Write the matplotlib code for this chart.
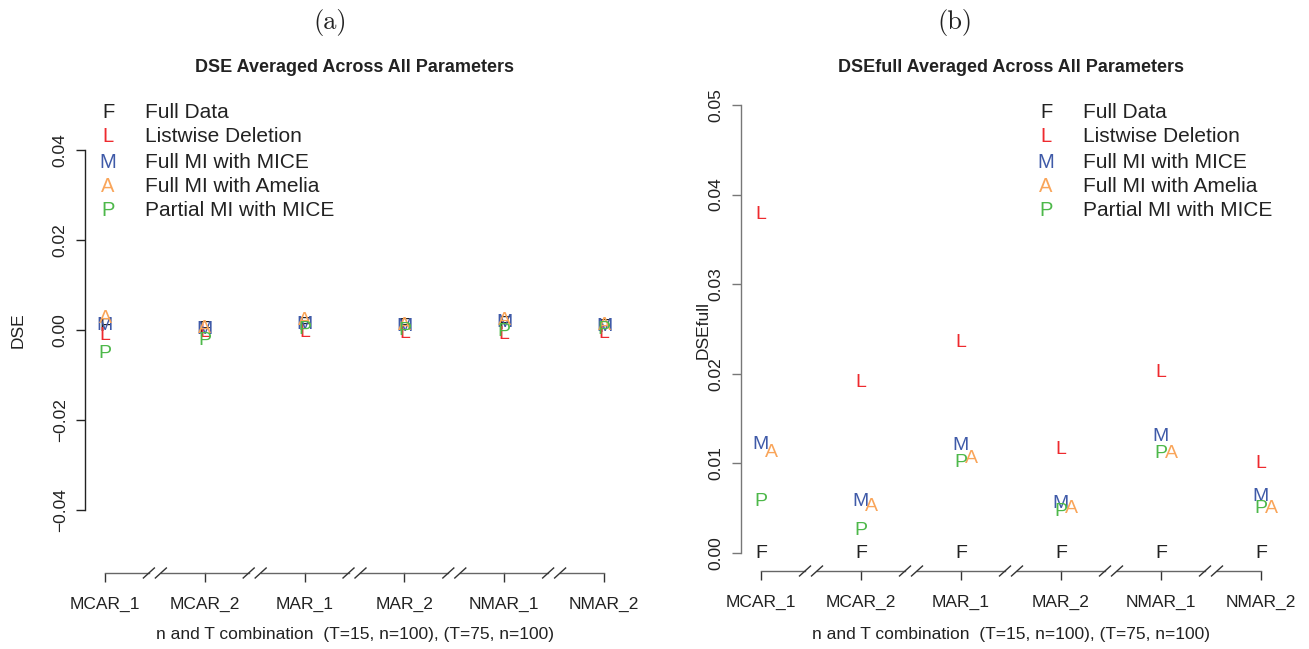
import matplotlib
matplotlib.use("Agg")
import matplotlib.pyplot as plt
import numpy as np

plt.rcParams['font.family'] = ['Liberation Sans', 'DejaVu Sans']

categories = ['MCAR_1', 'MCAR_2', 'MAR_1', 'MAR_2', 'NMAR_1', 'NMAR_2']

# Panel (a): DSE
dse_F = [0.0007, 0.0002, 0.0011, 0.0008, 0.0013, 0.0005]
dse_L = [-0.0013, -0.0005, -0.0006, -0.0007, -0.0010, -0.0007]
dse_M = [0.0009, 0.0002, 0.0013, 0.0007, 0.0017, 0.0007]
dse_A = [0.0026, 0.0004, 0.0021, 0.0011, 0.0021, 0.0011]
dse_P = [-0.0053, -0.0024, 0.0000, -0.0001, -0.0004, 0.0000]

# Panel (b): DSEfull
full_F = [0.0, 0.0, 0.0, 0.0, 0.0, 0.0]
full_L = [0.0378, 0.0190, 0.0235, 0.0115, 0.0201, 0.0100]
full_M = [0.0121, 0.0057, 0.0120, 0.0055, 0.0130, 0.0063]
full_A = [0.0112, 0.0052, 0.0106, 0.0050, 0.0111, 0.0050]
full_P = [0.0057, 0.0025, 0.0101, 0.0046, 0.0111, 0.0050]

letters = ['F', 'L', 'M', 'A', 'P']
labels = ['Full Data', 'Listwise Deletion', 'Full MI with MICE',
          'Full MI with Amelia', 'Partial MI with MICE']
colors = ['#222222', '#EE2A2E', '#3F5AA8', '#F9A55A', '#4DB84A']

a_yticks = [-0.04, -0.02, 0.00, 0.02, 0.04]
b_yticks = [0.00, 0.01, 0.02, 0.03, 0.04, 0.05]

W, H = 1309, 649
fig = plt.figure(figsize=(W / 100, H / 100), dpi=100)

def px_axes(l, t, r, b):
    return fig.add_axes([l / W, (H - b) / H, (r - l) / W, (b - t) / H])

axA = px_axes(85, 87, 624, 573)
axB = px_axes(741, 87, 1281, 571)

def setup(ax, ylim, yticks, ycolor, series, a_off, title, ylabel, ylabel_x, tag, tag_x, leg_x):
    x = np.arange(1, len(categories) + 1)
    ax.set_xlim(0.8, 6.2)
    ax.set_ylim(*ylim)
    for s in ['top', 'right', 'bottom']:
        ax.spines[s].set_visible(False)
    ax.spines['left'].set_bounds(yticks[0], yticks[-1])
    ax.spines['left'].set_color(ycolor)
    ax.spines['left'].set_linewidth(1.0)
    ax.set_yticks(yticks)
    ax.set_yticklabels([f'{v:.2f}'.replace('-', '\u2212') for v in yticks],
                       rotation=90, va='center', fontsize=12.5, color='#222222')
    ax.tick_params(axis='y', length=6.5, width=1.0, color=ycolor, pad=6)
    ax.set_xticks(x)
    ax.set_xticklabels(categories, fontsize=12.5, color='#222222')
    ax.tick_params(axis='x', length=6.5, width=1.0, color='#333333', pad=11)
    # x axis line with break marks
    tr = ax.get_xaxis_transform()
    dy = 5.0 / 486
    for i in range(len(x) - 1):
        mid = (x[i] + x[i + 1]) / 2
        ax.plot([x[i], mid - 0.06], [0, 0], transform=tr, color='#666666', lw=1.0, clip_on=False)
        ax.plot([mid + 0.06, x[i + 1]], [0, 0], transform=tr, color='#666666', lw=1.0, clip_on=False)
        for c in (mid - 0.06, mid + 0.06):
            ax.plot([c - 0.055, c + 0.055], [-dy, dy], transform=tr, color='#333333', lw=1.0, clip_on=False)
    # points as letters
    offsets = [0, 0, 0, a_off, 0]
    for vals, let, col, off in zip(series, letters, colors, offsets):
        for xi, v in zip(x, vals):
            ax.text(xi + off, v, let, ha='center', va='center', color=col, fontsize=14)
    # titles
    bb = ax.get_position()
    cx = (bb.x0 + bb.x1) / 2
    fig.text(cx, 1 - 68 / H, title, ha='center', va='center', fontsize=13,
             fontweight='bold', color='#222222')
    fig.text(tag_x / W, 1 - 22 / H, tag, ha='center', va='center', fontsize=19,
             family='cmr10', color='#222222')
    fig.text(cx, 1 - 635 / H, 'n and T combination  (T=15, n=100), (T=75, n=100)',
             ha='center', va='center', fontsize=12.5, color='#222222')
    fig.text(ylabel_x / W, 1 - 330 / H, ylabel, ha='center', va='center',
             rotation=90, fontsize=12.5, color='#222222')
    # legend
    rows = [113, 137, 162, 186, 210]
    for ry, let, col, lab in zip(rows, letters, colors, labels):
        fig.text(leg_x / W, 1 - ry / H, let, ha='center', va='center', fontsize=14.5, color=col)
        fig.text((leg_x + 37) / W, 1 - ry / H, lab, ha='left', va='center', fontsize=15,
                 color='#222222')

setup(axA, (-0.054, 0.054), a_yticks, '#222222',
      [dse_F, dse_L, dse_M, dse_A, dse_P], 0.0,
      'DSE Averaged Across All Parameters', 'DSE', 18, '(a)', 330, 108)
setup(axB, (-0.002, 0.052), b_yticks, '#777777',
      [full_F, full_L, full_M, full_A, full_P], 0.1,
      'DSEfull Averaged Across All Parameters', 'DSEfull', 703, '(b)', 955, 1046)

fig.savefig('out.png', dpi=100)
